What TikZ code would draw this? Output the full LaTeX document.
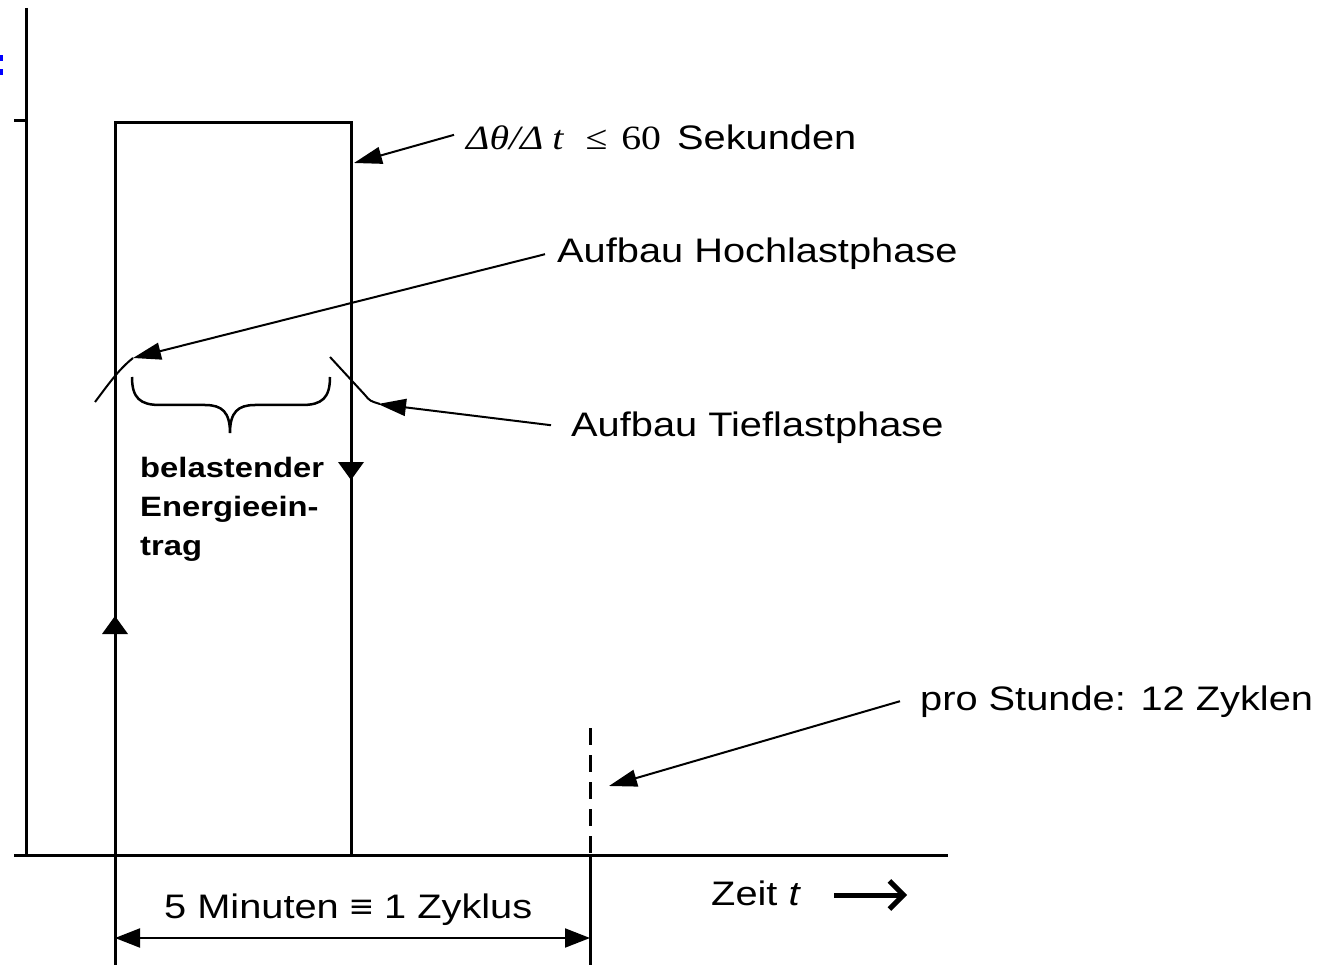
\documentclass[tikz,border=0pt]{standalone}
\usepackage{fontspec}
\setmainfont{Liberation Sans}[FakeStretch=1.17]
\newfontfamily\serifx{Liberation Serif}[FakeStretch=1.17]
\usetikzlibrary{arrows.meta}

\begin{document}
\begin{tikzpicture}[x=1pt,y=-1pt,
  axisline/.style={line width=3pt},
  thinline/.style={line width=2pt},
  callout/.style={line width=2pt, -{Triangle[length=28pt,width=17pt]}},
  label/.style={font=\fontsize{34}{40}\selectfont, inner sep=0pt, anchor=base west},
  boldlabel/.style={font=\fontsize{28}{39}\selectfont\bfseries, inner sep=0pt, anchor=base west},
  dimarrow/.style={line width=2pt, {Triangle[length=25pt,width=19pt]}-{Triangle[length=25pt,width=19pt]}}
]
\useasboundingbox (0,0) rectangle (1328,965);

% clipped blue mark at the left edge
\fill[blue] (0,55) rectangle (2.5,61);
\fill[blue] (0,69) rectangle (2.5,75);

% axes
\coordinate (yTop) at (26,8);
\coordinate (origin) at (26,855);
\coordinate (xEnd) at (948,855);
\draw[axisline] (yTop) -- (origin);
\draw[axisline] (14,855) -- (xEnd);
\draw[axisline] (14,121) -- (26,121);

% load pulse
\coordinate (pLB) at (115,965);
\coordinate (pLT) at (115,123);
\coordinate (pRT) at (351,123);
\coordinate (pRB) at (351,855);
\draw[axisline] (pLB) -- (pLT) -- (pRT) -- (pRB);
% direction marks on the edges
\fill (115,616) -- (102,634) -- (128,634) -- cycle;
\fill (351,480) -- (338,462) -- (364,462) -- cycle;

% end of cycle
\coordinate (cTop) at (590,728);
\coordinate (cAxis) at (590,855);
\coordinate (cBot) at (590,965);
\draw[axisline, dash pattern=on 17pt off 10pt] (cTop) -- (cAxis);
\draw[axisline] (cAxis) -- (cBot);

% cycle length
\coordinate (dL) at (115,938);
\coordinate (dR) at (590,938);
\draw[dimarrow] (dL) -- (dR);
\node[label] (cyc) at (164,918) {5 Minuten ≡ 1 Zyklus};

% time label
\node[label] (zeit) at (711,905) {Zeit \textit{t}};
\coordinate (zA) at (834,895);
\coordinate (zB) at (907,895);
\draw[line width=5pt, -{Straight Barb[length=14pt,width=28pt,line width=5pt]}] (zA) -- (zB);

% ramp edges
\draw[thinline] (95,402) .. controls (108,385) and (118,370) .. (133,358);
\draw[thinline] (330,357) -- (365,395) .. controls (370,401) .. (380,404);

% brace over the energy input
\coordinate (brL) at (132,377);
\coordinate (brR) at (330,377);
\coordinate (brTip) at (230,433);
\draw[line width=2.5pt] (brL) .. controls (132,398) and (140,405) .. (160,405) -- (205,405)
  .. controls (222,405) and (230,412) .. (brTip)
  .. controls (230,412) and (238,405) .. (255,405) -- (302,405)
  .. controls (322,405) and (330,398) .. (brR);

\node[boldlabel] (b1) at (140,477) {belastender};
\node[boldlabel] (b2) at (140,516) {Energieein-};
\node[boldlabel] (b3) at (140,555) {trag};

% callouts
\node[label] (slope) at (466,150) {{\serifx\itshape Δθ/Δ\hspace{9pt}t}\hspace{22pt}{\serifx ≤\hspace{14pt}60}\hspace{16pt}Sekunden};
\coordinate (slopeTip) at (354,163);
\draw[callout] ([xshift=-12pt,yshift=3pt]slope.west) -- (slopeTip);

\node[label] (hoch) at (557,263) {Aufbau Hochlastphase};
\coordinate (hochTip) at (133,358);
\draw[callout] ([xshift=-12pt]hoch.west) -- (hochTip);

\node[label] (tief) at (571,436) {Aufbau Tieflastphase};
\coordinate (tiefTip) at (378,404);
\draw[callout] ([xshift=-20pt,yshift=2pt]tief.west) -- (tiefTip);

\node[label] (pro) at (920,710) {pro Stunde: 12 Zyklen};
\coordinate (proTip) at (609,786);
\draw[callout] ([xshift=-20pt]pro.west) -- (proTip);
\end{tikzpicture}
\end{document}
